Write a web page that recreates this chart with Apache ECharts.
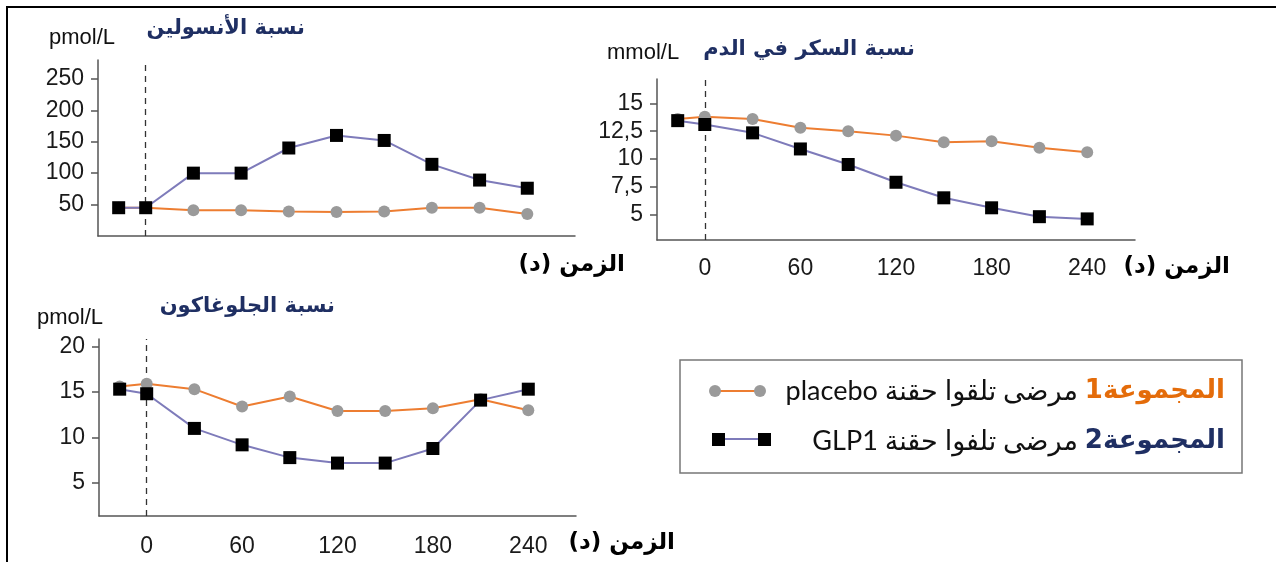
<!DOCTYPE html>
<html>
<head>
<meta charset="utf-8">
<script src="https://cdn.jsdelivr.net/npm/echarts@6/dist/echarts.min.js"></script>
<style>
html,body{margin:0;padding:0;background:#fff;}
#c{width:1276px;height:562px;}
</style>
</head>
<body>
<div id="c"></div>
<script>
// ---- data ----
const times = [-17, 0, 30, 60, 90, 120, 150, 180, 210, 240];
const insulinPlacebo = [45, 45, 41, 41, 39, 38, 39, 45, 45, 35];
const insulinGLP1 = [45, 45, 100, 100, 140, 160, 152, 114, 89, 76];
const glucosePlacebo = [13.6, 13.8, 13.6, 12.8, 12.5, 12.1, 11.5, 11.6, 11.0, 10.6];
const glucoseGLP1 = [13.45, 13.1, 12.35, 10.9, 9.5, 7.9, 6.5, 5.6, 4.8, 4.6];
const glucagonPlacebo = [15.6, 15.9, 15.3, 13.4, 14.5, 12.9, 12.9, 13.2, 14.2, 13.0];
const glucagonGLP1 = [15.3, 14.8, 11.0, 9.2, 7.8, 7.2, 7.2, 8.8, 14.1, 15.3];
const insulinTicks = [50, 100, 150, 200, 250];
const glucoseTicks = [5, 7.5, 10, 12.5, 15];
const glucagonTicks = [5, 10, 15, 20];
const timeTicks = [0, 60, 120, 180, 240];
const titles = ['نسبة الأنسولين', 'نسبة السكر في الدم', 'نسبة الجلوغاكون'];
const units = ['pmol/L', 'mmol/L', 'pmol/L'];
const timeName = 'الزمن (د)\u200F';
const groupWord = 'المجموعة';
const legend1 = 'placebo مرضى تلقوا حقنة ';
const legend2 = 'GLP1 مرضى تلفوا حقنة ';

// ---- styles ----
const ORANGE = '#ED7D31';
const PURPLE = '#7E7BBA';
const GREY = '#9A9A9A';
const NAVY = '#1F2F63';
const AXIS = '#555';
const LATIN = '"Liberation Sans", Arial, sans-serif';
const ARABIC = '"DejaVu Sans", sans-serif';

const chart = echarts.init(document.getElementById('c'), null, {renderer: 'canvas', width: 1276, height: 562});

const grids = [
  {left: 98, top: 60, width: 477, height: 176},
  {left: 657, top: 79, width: 478, height: 161},
  {left: 99, top: 339, width: 477, height: 177}
];
const yRanges = [[0, 280], [2.7, 17.2], [1.4, 20.8]];
const yTicks = [insulinTicks, glucoseTicks, glucagonTicks];

const fmt = v => String(v).replace('.', ',');

const xAxes = grids.map((g, i) => ({
  type: 'value', gridIndex: i, min: -30, max: 270,
  axisLine: {show: true, onZero: false, lineStyle: {color: AXIS, width: 1.5}},
  axisTick: {show: false},
  splitLine: {show: false},
  axisLabel: {show: i > 0, customValues: timeTicks, margin: i === 1 ? 17 : 19, fontSize: 23, color: '#1a1a1a', fontFamily: LATIN}
}));
const yAxes = grids.map((g, i) => ({
  type: 'value', gridIndex: i, min: yRanges[i][0], max: yRanges[i][1],
  axisLine: {show: true, onZero: false, lineStyle: {color: AXIS, width: 1.5}},
  axisTick: {show: true, length: 7, customValues: yTicks[i], lineStyle: {color: AXIS, width: 1.5}},
  splitLine: {show: false},
  axisLabel: {customValues: yTicks[i], formatter: fmt, margin: 14, fontSize: 23, color: '#1a1a1a', fontFamily: LATIN}
}));

const pairs = arr => times.map((t, i) => [t, arr[i]]);
const placeboSeries = (arr, i) => ({
  type: 'line', xAxisIndex: i, yAxisIndex: i, data: pairs(arr),
  symbol: 'circle', symbolSize: 12,
  itemStyle: {color: GREY},
  lineStyle: {color: ORANGE, width: 2},
  z: 2,
  markLine: {
    silent: true, symbol: ['none', 'none'], label: {show: false},
    lineStyle: {color: '#333', width: 1.3, type: [6, 5]},
    data: [{xAxis: 0}], z: 1
  }
});
const glpSeries = (arr, i) => ({
  type: 'line', xAxisIndex: i, yAxisIndex: i, data: pairs(arr),
  symbol: 'rect', symbolSize: 13,
  itemStyle: {color: '#000'},
  lineStyle: {color: PURPLE, width: 2},
  z: 3
});

const titleGraphics = [];
const unitPos = [[49, 38], [607, 53], [37, 318]];
const titleRight = [[305, 29], [915, 50], [335, 307]];
const timePos = [[625, 265], [1230, 267], [675, 543]];
for (let i = 0; i < 3; i++) {
  titleGraphics.push({type: 'text', x: unitPos[i][0], y: unitPos[i][1],
    style: {text: units[i], fontSize: 22, fontFamily: LATIN, fill: '#111', verticalAlign: 'middle'}});
  titleGraphics.push({type: 'text', x: titleRight[i][0], y: titleRight[i][1],
    style: {text: titles[i], fontSize: 21, fontWeight: 'bold', fontFamily: ARABIC, fill: NAVY, align: 'right', verticalAlign: 'middle'}});
  titleGraphics.push({type: 'text', x: timePos[i][0], y: timePos[i][1],
    style: {text: timeName, fontSize: 23, fontWeight: 'bold', fontFamily: ARABIC, fill: '#000', align: 'right', verticalAlign: 'middle'}});
}

const legendGraphics = [
  {type: 'rect', shape: {x: 680, y: 360, width: 562, height: 113}, style: {fill: '#fff', stroke: '#777', lineWidth: 1.5}},
  {type: 'line', shape: {x1: 715, y1: 391, x2: 760, y2: 391}, style: {stroke: ORANGE, lineWidth: 2}},
  {type: 'circle', shape: {cx: 715, cy: 391, r: 6}, style: {fill: GREY}},
  {type: 'circle', shape: {cx: 760, cy: 391, r: 6}, style: {fill: GREY}},
  {type: 'line', shape: {x1: 718, y1: 439, x2: 764, y2: 439}, style: {stroke: PURPLE, lineWidth: 2}},
  {type: 'rect', shape: {x: 712, y: 433, width: 13, height: 13}, style: {fill: '#000'}},
  {type: 'rect', shape: {x: 758, y: 433, width: 13, height: 13}, style: {fill: '#000'}},
  {type: 'text', x: 1225, y: 391, style: {
    text: '{k|' + legend1 + '}{o|1}{o|' + groupWord + '}', align: 'right', verticalAlign: 'middle',
    rich: {
      k: {fontSize: 27, fontFamily: 'Lato, "DejaVu Sans", sans-serif', fill: '#111'},
      o: {fontSize: 26, fontWeight: 'bold', fontFamily: ARABIC, fill: '#E46C0A'}
    }}},
  {type: 'text', x: 1225, y: 441, style: {
    text: '{k|' + legend2 + '}{n|2}{n|' + groupWord + '}', align: 'right', verticalAlign: 'middle',
    rich: {
      k: {fontSize: 27, fontFamily: 'Lato, "DejaVu Sans", sans-serif', fill: '#111'},
      n: {fontSize: 26, fontWeight: 'bold', fontFamily: ARABIC, fill: NAVY}
    }}}
];

const frame = [
  {type: 'line', shape: {x1: 7, y1: 7, x2: 1276, y2: 7}, style: {stroke: '#000', lineWidth: 2}},
  {type: 'line', shape: {x1: 7, y1: 6, x2: 7, y2: 562}, style: {stroke: '#000', lineWidth: 2}}
];

chart.setOption({
  animation: false,
  backgroundColor: '#fff',
  grid: grids,
  xAxis: xAxes,
  yAxis: yAxes,
  series: [
    placeboSeries(insulinPlacebo, 0), glpSeries(insulinGLP1, 0),
    placeboSeries(glucosePlacebo, 1), glpSeries(glucoseGLP1, 1),
    placeboSeries(glucagonPlacebo, 2), glpSeries(glucagonGLP1, 2)
  ],
  graphic: frame.concat(titleGraphics, legendGraphics)
});
</script>
</body>
</html>
